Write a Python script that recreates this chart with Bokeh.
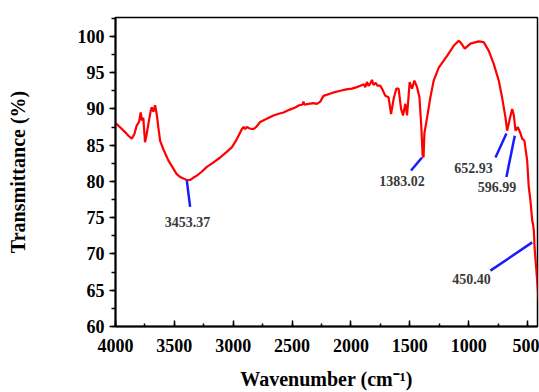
from bokeh.plotting import figure
from bokeh.models import Range1d, FixedTicker
from bokeh.core.properties import value
from bokeh.embed import file_html
from bokeh.resources import INLINE

wavenumber = [4000, 3990, 3950, 3919, 3890, 3862, 3840, 3820, 3800, 3786, 3775, 3764, 3749, 3735, 3721,
              3700, 3692, 3678, 3664, 3650, 3635, 3621, 3590, 3551, 3510, 3480, 3450, 3423, 3395, 3366,
              3340, 3309, 3270, 3224, 3170, 3111, 3060, 3012, 2970, 2927, 2912, 2898, 2884, 2860, 2828,
              2800, 2771, 2720, 2658, 2620, 2573, 2520, 2473, 2440, 2410, 2403, 2396, 2360, 2320, 2289,
              2260, 2233, 2160, 2090, 2040, 1991, 1950, 1920, 1892, 1878, 1864, 1850, 1835, 1821, 1808,
              1790, 1775, 1750, 1730, 1708, 1680, 1659, 1637, 1614, 1595, 1574, 1557, 1538, 1523, 1501,
              1481, 1461, 1438, 1418, 1402, 1391, 1383, 1376, 1353, 1325, 1297, 1254, 1183, 1127, 1084,
              1061, 1033, 985, 914, 872, 829, 787, 744, 716, 687, 673, 651, 630, 616, 602,
              583, 559, 545, 526, 503, 489, 475, 460, 452, 446, 440, 418, 405]
transmittance = [87.9, 87.9, 87.3, 86.8, 86.3, 85.9, 86.5, 87.7, 88.2, 89.5, 88.4, 88.8, 85.4, 86.5, 87.9,
                 89.8, 90.2, 89.6, 90.5, 89.3, 87.3, 85.6, 84.3, 82.9, 81.8, 81.0, 80.6, 80.4, 80.2, 80.2,
                 80.5, 80.8, 81.3, 82.0, 82.6, 83.3, 84.0, 84.7, 85.8, 87.2, 87.5, 87.2, 87.5, 87.3, 87.2,
                 87.6, 88.2, 88.6, 89.1, 89.3, 89.5, 89.9, 90.2, 90.5, 90.6, 91.0, 90.6, 90.7, 90.8, 90.7,
                 91.0, 91.8, 92.2, 92.5, 92.7, 92.8, 93.0, 93.2, 93.4, 93.0, 93.7, 93.2, 93.5, 94.0, 93.3,
                 93.6, 93.2, 93.2, 92.6, 91.8, 91.6, 89.3, 91.4, 92.8, 92.8, 90.0, 89.1, 90.7, 89.1, 93.7,
                 92.8, 93.9, 93.0, 91.6, 87.5, 83.6, 83.3, 86.6, 88.8, 91.6, 93.9, 95.7, 97.3, 98.7, 99.4,
                 99.0, 98.3, 99.0, 99.3, 99.2, 98.0, 96.2, 93.9, 91.6, 88.8, 87.0, 88.6, 90.0, 89.1, 87.0,
                 87.5, 86.6, 85.9, 85.6, 82.9, 79.2, 77.4, 74.6, 74.0, 73.2, 70.9, 66.4, 63.5]

# peak annotations
peak_labels = ["3453.37", "1383.02", "652.93", "596.99", "450.40"]
pointer_x0 = [3394, 1396, 679, 608, 460]
pointer_y0 = [80.1, 83.3, 86.6, 86.3, 71.6]
pointer_x1 = [3366, 1489, 772, 679, 815]
pointer_y1 = [76.5, 81.5, 83.3, 80.6, 67.7]
label_x = [3388, 1567, 959, 759, 976]
label_y = [74.4, 80.1, 81.8, 79.2, 66.5]

x_ticks = [4000, 3500, 3000, 2500, 2000, 1500, 1000, 500]
y_ticks = [60, 65, 70, 75, 80, 85, 90, 95, 100]

FONT = "Liberation Serif"

p = figure(width=539, height=392, output_backend="svg", toolbar_location=None,
           x_range=Range1d(4000, 415), y_range=Range1d(60, 102.6),
           min_border_left=115, min_border_right=2, min_border_top=17, min_border_bottom=66)

p.line(wavenumber, transmittance, line_color="#ff0000", line_width=2.2)
p.segment(x0=pointer_x0, y0=pointer_y0, x1=pointer_x1, y1=pointer_y1,
          line_color="#1a1aff", line_width=2.5)
p.text(x=label_x, y=label_y, text=peak_labels, text_font=value(FONT), text_font_style="bold",
       text_font_size="14px", text_color="#3a3a3a", text_align="center", text_baseline="middle")

p.grid.visible = False
p.outline_line_color = "black"
p.outline_line_width = 1.5
p.background_fill_color = "white"
p.border_fill_color = "white"

p.xaxis.ticker = FixedTicker(ticks=x_ticks, minor_ticks=list(range(4000, 399, -250)))
p.yaxis.ticker = FixedTicker(ticks=y_ticks, minor_ticks=[v / 2 for v in range(120, 206, 5)])

for ax in (p.xaxis[0], p.yaxis[0]):
    ax.axis_line_width = 2
    ax.axis_line_color = "black"
    ax.major_tick_line_color = "black"
    ax.minor_tick_line_color = "black"
    ax.major_tick_line_width = 1.5
    ax.minor_tick_line_width = 1.5
    ax.major_label_text_font = FONT
    ax.major_label_text_font_style = "bold"
    ax.major_label_text_font_size = "18px"
    ax.major_label_text_color = "black"
    ax.axis_label_text_font = FONT
    ax.axis_label_text_font_style = "bold"
    ax.axis_label_text_font_size = "20px"
    ax.axis_label_text_color = "black"

xa = p.xaxis[0]
xa.axis_label = "Wavenumber (cm⁻¹)"
xa.major_tick_in = 6
xa.major_tick_out = 0
xa.minor_tick_in = 3
xa.minor_tick_out = 0
xa.major_label_standoff = 12
xa.axis_label_standoff = 13

ya = p.yaxis[0]
ya.axis_label = "Transmittance (%)"
ya.major_tick_in = 0
ya.major_tick_out = 6
ya.minor_tick_in = 0
ya.minor_tick_out = 4
ya.major_label_standoff = 5
ya.axis_label_standoff = 46

open("out.html", "w").write(file_html(p, INLINE))
